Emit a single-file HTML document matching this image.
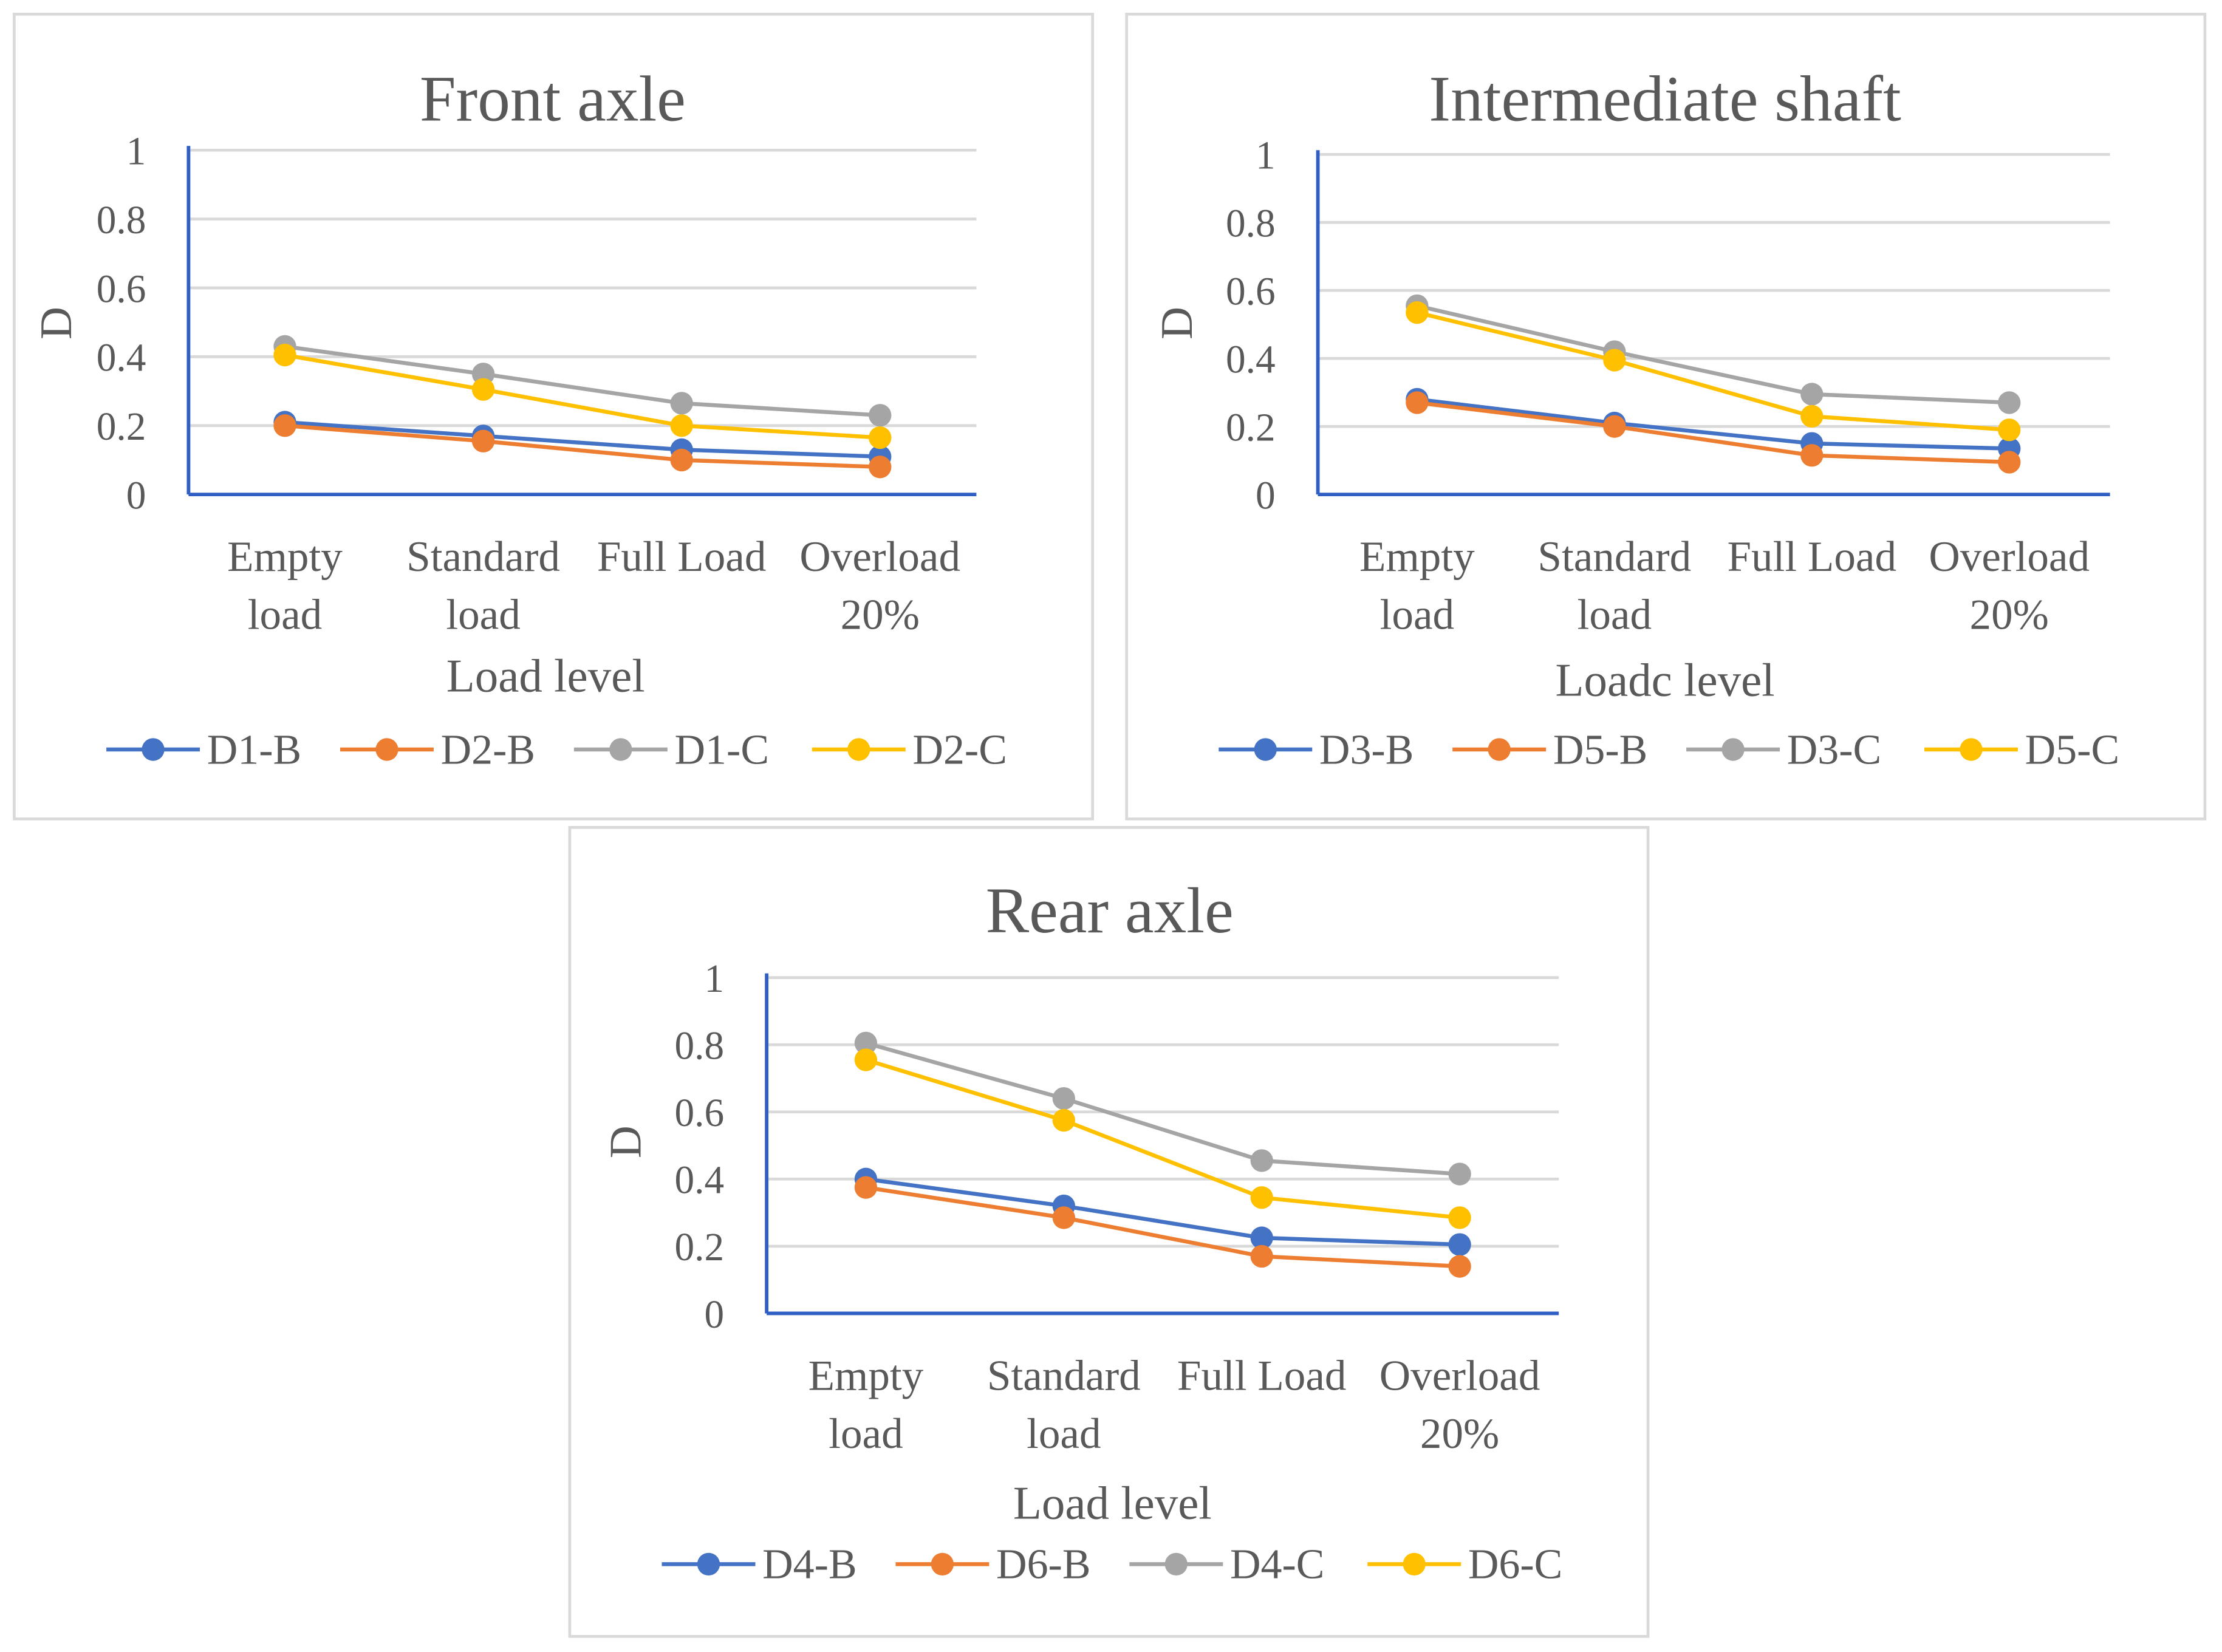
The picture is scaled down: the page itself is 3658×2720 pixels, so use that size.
<!DOCTYPE html>
<html><head><meta charset="utf-8"><style>
html,body{margin:0;padding:0;background:#fff;}
svg{display:block;}
text{font-family:"Liberation Serif",serif;fill:#595959;}
</style></head><body>
<svg id="chart" width="3658" height="2720" viewBox="0 0 1568 1166" xmlns="http://www.w3.org/2000/svg">
<rect x="0" y="0" width="1568" height="1166" fill="#fff"/>
</svg>
<script>
const categories = [["Empty","load"],["Standard","load"],["Full Load",""],["Overload","20%"]];
const yTicks = [0,0.2,0.4,0.6,0.8,1];
const yTickLabels = ["0","0.2","0.4","0.6","0.8","1"];
const colors = ["#4472C4","#ED7D31","#A5A5A5","#FFC000"];

const frontNames = ["D1-B","D2-B","D1-C","D2-C"];
const frontD1B = [0.21,0.17,0.13,0.11];
const frontD2B = [0.20,0.155,0.10,0.08];
const frontD1C = [0.43,0.35,0.265,0.23];
const frontD2C = [0.405,0.305,0.20,0.165];

const interNames = ["D3-B","D5-B","D3-C","D5-C"];
const interD3B = [0.28,0.21,0.15,0.135];
const interD5B = [0.27,0.20,0.115,0.095];
const interD3C = [0.555,0.42,0.295,0.27];
const interD5C = [0.535,0.395,0.23,0.19];

const rearNames = ["D4-B","D6-B","D4-C","D6-C"];
const rearD4B = [0.40,0.32,0.225,0.205];
const rearD6B = [0.375,0.285,0.17,0.14];
const rearD4C = [0.805,0.64,0.455,0.415];
const rearD6C = [0.755,0.575,0.345,0.285];

const svg = document.getElementById('chart');
const NS = "http://www.w3.org/2000/svg";
function mk(tag, attrs, parent){
  const e = document.createElementNS(NS, tag);
  for (const k in attrs) e.setAttribute(k, attrs[k]);
  parent.appendChild(e); return e;
}

function panel(p){
  const g = mk('g', {}, svg);
  
  
  const box = mk('rect', {x:p.bx, y:p.by, width:p.bw, height:p.bh, fill:'#fff', stroke:'#d9d9d9', 'stroke-width':2}, g);
  
  
  const t = mk('text', {x:p.tx, y:p.ty, 'font-size':46, 'text-anchor':'middle'}, g);
  t.textContent = p.title;
  
  
  const yS = v => p.y0 + (p.y1 - p.y0) * v;
  const xS = i => p.cx0 + i * p.cdx;
  yTicks.forEach((v, i) => {
    if (v > 0) {
      const gl = mk('line', {x1:p.ax, x2:p.ax2, y1:yS(v), y2:yS(v), stroke:'#d9d9d9', 'stroke-width':2}, g);
      
      
    }
    const tl = mk('text', {x:p.ax - 30, y:yS(v) + 10, 'font-size':28, 'text-anchor':'end'}, g);
    tl.textContent = yTickLabels[i];
    
    
  });
  const ya = mk('line', {x1:p.ax, x2:p.ax, y1:yS(1) - 3, y2:yS(0), stroke:'#2F5FC4', 'stroke-width':2.5}, g);
  
  
  const xa = mk('line', {x1:p.ax, x2:p.ax2, y1:yS(0), y2:yS(0), stroke:'#2F5FC4', 'stroke-width':2.5}, g);
  
  
  categories.forEach((c, i) => {
    c.forEach((line, j) => {
      if (!line) return;
      const xl = mk('text', {x:xS(i), y:yS(0) + 54 + j * 41, 'font-size':30.5, 'text-anchor':'middle'}, g);
      xl.textContent = line;
      
      
    });
  });
  const xt = mk('text', {x:p.xtx, y:p.xty, 'font-size':33, 'text-anchor':'middle'}, g);
  xt.textContent = p.xTitle;
  
  
  const yt = mk('text', {x:0, y:0, 'font-size':32, 'text-anchor':'middle', transform:`translate(${p.ytx},${p.yty}) rotate(-90)`}, g);
  yt.textContent = 'D';
  
  
  p.series.forEach((s, si) => {
    const pts = s.map((v, i) => xS(i) + ',' + yS(v)).join(' ');
    const pl = mk('polyline', {points:pts, fill:'none', stroke:colors[si], 'stroke-width':2.8}, g);
    
    
    s.forEach((v, i) => {
      const c = mk('circle', {cx:xS(i), cy:yS(v), r:8, fill:colors[si]}, g);
      
      
    });
    const lx = p.lx[si];
    const lg = mk('g', {}, g);
    
    
    mk('line', {x1:lx - 33, x2:lx + 33, y1:p.ly, y2:p.ly, stroke:colors[si], 'stroke-width':2.8}, lg);
    mk('circle', {cx:lx, cy:p.ly, r:8, fill:colors[si]}, lg);
    const lt = mk('text', {x:lx + 38, y:p.ly + 10, 'font-size':30}, lg);
    lt.textContent = p.names[si];
  });
}

panel({id:'front-axle', title:'Front axle', bx:10, by:10, bw:761, bh:568, tx:390, ty:85,
  ax:133, ax2:689, y0:349, y1:106, cx0:201, cdx:140, xTitle:'Load level', xtx:385, xty:488,
  ytx:50, yty:228, ly:529, lx:[108,273,438,606], names:frontNames,
  series:[frontD1B, frontD2B, frontD1C, frontD2C]});
panel({id:'intermediate-shaft', title:'Intermediate shaft', bx:795, by:10, bw:761, bh:568, tx:1175, ty:85,
  ax:930, ax2:1489, y0:349, y1:109, cx0:1000, cdx:139.3, xTitle:'Loadc level', xtx:1175, xty:491,
  ytx:841, yty:228, ly:529, lx:[893,1058,1223,1391], names:interNames,
  series:[interD3B, interD5B, interD3C, interD5C]});
panel({id:'rear-axle', title:'Rear axle', bx:402, by:584, bw:761, bh:571, tx:783, ty:658,
  ax:541, ax2:1100, y0:927, y1:690, cx0:611, cdx:139.7, xTitle:'Load level', xtx:785, xty:1072,
  ytx:452, yty:806, ly:1104, lx:[500,665,830,998], names:rearNames,
  series:[rearD4B, rearD6B, rearD4C, rearD6C]});
</script>
</body></html>
